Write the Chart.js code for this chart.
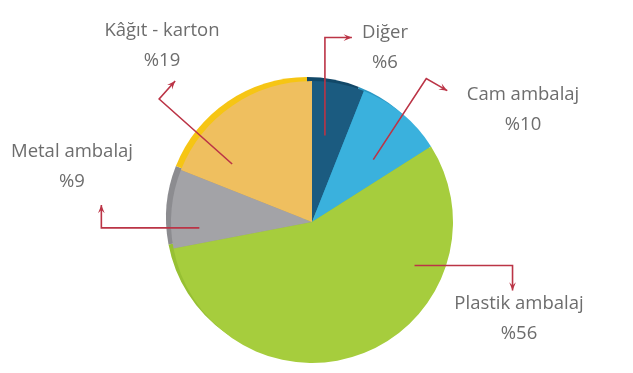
<!DOCTYPE html>
<html>
<head>
<meta charset="utf-8">
<script src="https://cdn.jsdelivr.net/npm/chart.js@4"></script>
<style>
  html, body { margin: 0; padding: 0; background: #fff; }
  #wrap { width: 633px; height: 373px; }
</style>
</head>
<body>
<div id="wrap"><canvas id="myChart" width="633" height="373"></canvas></div>
<script>
// chart data
const categories = ['Diğer', 'Cam ambalaj', 'Plastik ambalaj', 'Metal ambalaj', 'Kâğıt - karton'];
const shares = [6, 10, 56, 9, 19];
const percentLabels = ['%6', '%10', '%56', '%9', '%19'];

const faceColors = ['#1b5b80', '#3ab1dd', '#a6cd3d', '#a3a3a7', '#efbf5f'];
const edgeColors = ['#124868', '#2b98c4', '#97c033', '#8c8c90', '#f6c514'];

// where each leader starts (angle from 12 o'clock, fraction of radius),
// the bends relative to that start, and where the text sits
const callouts = [
    { a: 8.5, f: 0.62, path: [[0, -98], [27, -98]], text: [385, 33] },
    { a: 44.5, f: 0.62, path: [[53, -81], [74, -69]], text: [523, 95] },
    { a: 113, f: 0.79, path: [[98, 0], [98, 25]], text: [519, 304] },
    { a: 267, f: 0.8, path: [[-98, 0], [-98, -23]], text: [72, 152] },
    { a: 306, f: 0.7, path: [[-73, -65], [-57, -83]], text: [162, 31] }
];

const pieEdge = {
    id: 'pieEdge',
    beforeDatasetsDraw(chart) {
        const ctx = chart.ctx;
        const arcs = chart.getDatasetMeta(0).data;
        ctx.save();
        ctx.translate(-5, -4);
        arcs.forEach((arc, i) => {
            ctx.beginPath();
            ctx.moveTo(arc.x, arc.y);
            ctx.arc(arc.x, arc.y, arc.outerRadius, arc.startAngle, arc.endAngle);
            ctx.closePath();
            ctx.fillStyle = edgeColors[i];
            ctx.fill();
        });
        ctx.restore();
    }
};

const callout = {
    id: 'callout',
    afterDatasetsDraw(chart) {
        const ctx = chart.ctx;
        const arcs = chart.getDatasetMeta(0).data;
        ctx.save();
        arcs.forEach((arc, i) => {
            const c = callouts[i];
            const ang = c.a * Math.PI / 180;
            const sx = arc.x + Math.sin(ang) * arc.outerRadius * c.f;
            const sy = arc.y - Math.cos(ang) * arc.outerRadius * c.f;
            const pts = [[sx, sy]].concat(c.path.map(p => [sx + p[0], sy + p[1]]));
            ctx.strokeStyle = '#bb3446';
            ctx.lineWidth = 1.6;
            ctx.beginPath();
            pts.forEach((p, k) => k ? ctx.lineTo(p[0], p[1]) : ctx.moveTo(p[0], p[1]));
            ctx.stroke();
            // arrow head
            const tip = pts[pts.length - 1];
            const prev = pts[pts.length - 2];
            const dir = Math.atan2(tip[1] - prev[1], tip[0] - prev[0]);
            ctx.fillStyle = '#bb3446';
            ctx.beginPath();
            ctx.moveTo(tip[0], tip[1]);
            ctx.lineTo(tip[0] - 9 * Math.cos(dir - 0.38), tip[1] - 9 * Math.sin(dir - 0.38));
            ctx.lineTo(tip[0] - 5 * Math.cos(dir), tip[1] - 5 * Math.sin(dir));
            ctx.lineTo(tip[0] - 9 * Math.cos(dir + 0.38), tip[1] - 9 * Math.sin(dir + 0.38));
            ctx.closePath();
            ctx.fill();
            // texts
            ctx.fillStyle = '#6d6d6d';
            ctx.font = '18.5px "Open Sans", sans-serif';
            ctx.textAlign = 'center';
            ctx.textBaseline = 'middle';
            ctx.fillText(categories[i], c.text[0], c.text[1]);
            ctx.fillText(percentLabels[i], c.text[0], c.text[1] + 30);
        });
        ctx.restore();
    }
};

new Chart(document.getElementById('myChart').getContext('2d'), {
    type: 'pie',
    data: {
        labels: categories,
        datasets: [{
            data: shares,
            backgroundColor: faceColors,
            borderWidth: 0,
            hoverOffset: 0
        }]
    },
    options: {
        responsive: false,
        animation: false,
        layout: { padding: { top: 81, bottom: 10, left: 171, right: 180 } },
        plugins: {
            legend: { display: false },
            tooltip: { enabled: false }
        }
    },
    plugins: [pieEdge, callout]
});
</script>
</body>
</html>
